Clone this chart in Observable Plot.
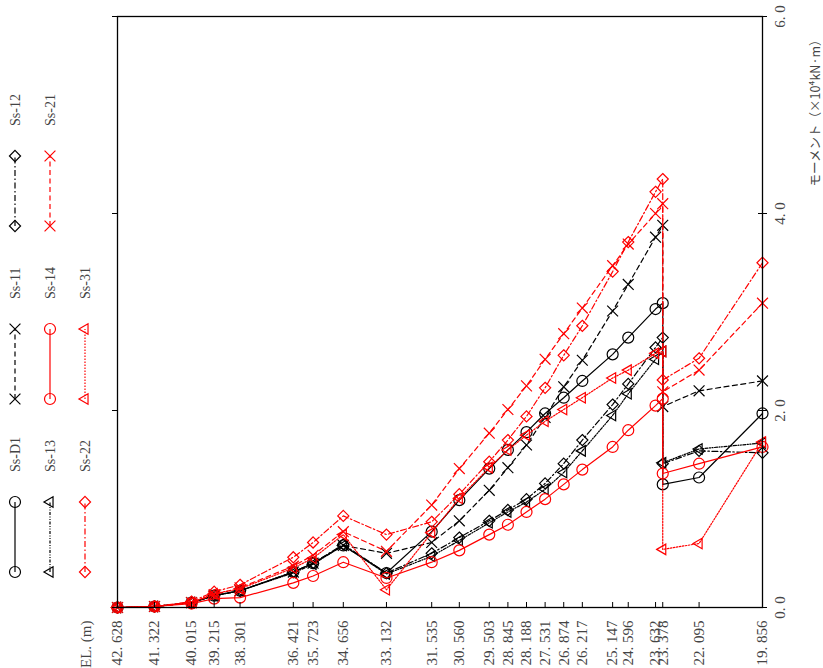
<!DOCTYPE html>
<html>
<head>
<meta charset="utf-8">
<script src="https://cdn.jsdelivr.net/npm/d3@7"></script>
<script src="https://cdn.jsdelivr.net/npm/@observablehq/plot@0.6"></script>
<style>
  html, body { margin: 0; padding: 0; background: #fff; }
  #wrap { position: relative; width: 823px; height: 668px; }
  #wrap svg { position: absolute; left: 0; top: 0; }
</style>
</head>
<body>
<div id="wrap"></div>
<script>
// Elevations (23.378 appears twice: value just above and just below the step)
const EL = [42.628, 41.322, 40.015, 39.215, 38.301, 36.421, 35.723, 34.656, 33.132, 31.535, 30.560, 29.503, 28.845, 28.188, 27.531, 26.874, 26.217, 25.147, 24.596, 23.632, 23.378, 23.378, 22.095, 19.856];
const elTicks = [42.628, 41.322, 40.015, 39.215, 38.301, 36.421, 35.723, 34.656, 33.132, 31.535, 30.560, 29.503, 28.845, 28.188, 27.531, 26.874, 26.217, 25.147, 24.596, 23.632, 23.378, 22.095, 19.856];
const momentTicks = [0, 2, 4, 6];

const seriesNames = ["Ss-D1", "Ss-11", "Ss-12", "Ss-13", "Ss-14", "Ss-21", "Ss-22", "Ss-31"];
const ssD1 = [0, 0.01, 0.05, 0.12, 0.17, 0.36, 0.45, 0.63, 0.35, 0.77, 1.09, 1.41, 1.60, 1.78, 1.97, 2.13, 2.30, 2.57, 2.74, 3.03, 3.09, 1.25, 1.32, 1.97];
const ss11 = [0, 0.01, 0.05, 0.12, 0.17, 0.36, 0.45, 0.63, 0.55, 0.66, 0.88, 1.19, 1.42, 1.65, 1.93, 2.24, 2.51, 3.01, 3.28, 3.76, 3.88, 2.04, 2.20, 2.30];
const ss12 = [0, 0.01, 0.05, 0.12, 0.17, 0.36, 0.45, 0.64, 0.35, 0.55, 0.71, 0.88, 0.99, 1.10, 1.26, 1.46, 1.70, 2.06, 2.27, 2.64, 2.74, 1.46, 1.59, 1.57];
const ss13 = [0, 0.01, 0.05, 0.12, 0.17, 0.35, 0.44, 0.63, 0.34, 0.52, 0.68, 0.86, 0.97, 1.07, 1.20, 1.37, 1.59, 1.95, 2.17, 2.52, 2.60, 1.47, 1.61, 1.67];
const ss14 = [0, 0.01, 0.04, 0.09, 0.10, 0.25, 0.32, 0.46, 0.30, 0.46, 0.58, 0.74, 0.84, 0.97, 1.10, 1.25, 1.40, 1.63, 1.80, 2.05, 2.12, 1.36, 1.46, 1.63];
const ss21 = [0, 0.01, 0.05, 0.13, 0.20, 0.42, 0.53, 0.77, 0.57, 1.04, 1.41, 1.77, 2.01, 2.25, 2.52, 2.78, 3.04, 3.47, 3.69, 4.00, 4.10, 2.19, 2.41, 3.09];
const ss22 = [0, 0.01, 0.06, 0.16, 0.23, 0.51, 0.66, 0.93, 0.74, 0.87, 1.15, 1.48, 1.70, 1.94, 2.23, 2.56, 2.86, 3.41, 3.71, 4.22, 4.35, 2.31, 2.53, 3.50];
const ss31 = [0, 0.01, 0.05, 0.14, 0.19, 0.40, 0.50, 0.74, 0.18, 0.76, 1.11, 1.42, 1.60, 1.75, 1.89, 2.01, 2.13, 2.33, 2.41, 2.58, 2.60, 0.59, 0.65, 1.68];
const seriesValues = [ssD1, ss11, ss12, ss13, ss14, ss21, ss22, ss31];

// styles
const seriesColors = ["#000", "#000", "#000", "#000", "#f00", "#f00", "#f00", "#f00"];
const seriesDash = [null, "5,3.5", "6,2.5,1.5,2.5", "3,1.5,1,1.5,1,1.5", null, "5,3.5", "6,2.5,1.5,2.5", "1.5,1.5"];
const seriesSymbol = ["circle", "times", "diamond2", "triangle2", "circle", "times", "diamond2", "triangle2"];
const seriesRotate = [0, 0, 0, -90, 0, 0, 0, -90];

const FONT = "Liberation Serif";
const TXT = "#444";
const fmtEL = v => v.toFixed(3).replace(".", ". ");
const fmtM = v => v.toFixed(1).replace(".", ". ");

const marks = [];
seriesNames.forEach((name, s) => {
  const rows = EL.map((e, i) => ({el: e, m: seriesValues[s][i], name}));
  marks.push(Plot.line(rows, {x: "el", y: "m", stroke: seriesColors[s], strokeWidth: 1.2, strokeDasharray: seriesDash[s]}));
  marks.push(Plot.dot(rows, {x: "el", y: "m", symbol: seriesSymbol[s], r: seriesSymbol[s] === "circle" ? 5.5 : 5, stroke: seriesColors[s], fill: "none", strokeWidth: 1.2, rotate: seriesRotate[s]}));
});

const innerH = 668 - 16 - 61;
const innerW = 823 - 117 - 61;

const chart = Plot.plot({
  width: 823,
  height: 668,
  marginLeft: 117,
  marginRight: 61,
  marginTop: 16,
  marginBottom: 61,
  style: {fontFamily: FONT, background: "transparent"},
  x: {domain: [42.628, 19.856], axis: null},
  y: {domain: [0, 6], axis: null},
  marks: [
    ...marks,
    Plot.frame({stroke: "#000", strokeWidth: 1.3}),
    // EL ticks (inward at bottom)
    Plot.tickX(elTicks, {x: d => d, stroke: "#000", strokeWidth: 1, insetTop: innerH - 5}),
    // moment ticks: left (outward) and right (crossing)
    Plot.tickY(momentTicks, {y: d => d, stroke: "#000", strokeWidth: 1, insetLeft: -5, insetRight: innerW}),
    Plot.tickY(momentTicks, {y: d => d, stroke: "#000", strokeWidth: 1, insetLeft: innerW - 4, insetRight: -5}),
    // EL tick labels
    Plot.text(elTicks, {x: d => d, text: fmtEL, frameAnchor: "bottom", rotate: -90, textAnchor: "end", lineAnchor: "middle", dy: 13, fontSize: 15, fontFamily: FONT, fill: TXT}),
    Plot.text(["EL. (m)"], {frameAnchor: "bottom-left", text: d => d, rotate: -90, textAnchor: "end", lineAnchor: "middle", dx: -31, dy: 13, fontSize: 15, fontFamily: FONT, fill: TXT}),
    // moment tick labels
    Plot.text(momentTicks, {y: d => d, text: fmtM, frameAnchor: "right", rotate: -90, textAnchor: "middle", lineAnchor: "middle", dx: 18, fontSize: 15, fontFamily: FONT, fill: TXT}),
    Plot.text(["モーメント（×10⁴kN·m）"], {frameAnchor: "top-right", text: d => d, rotate: -90, textAnchor: "end", lineAnchor: "middle", dx: 53, dy: 17, fontSize: 12.5, fontFamily: "Noto Sans CJK JP", fill: TXT})
  ]
});
document.getElementById("wrap").appendChild(chart);

// Legend (rotated, in the left margin)
const symbolMap = {circle: d3.symbolCircle, times: d3.symbolTimes, diamond2: d3.symbolDiamond2, triangle2: d3.symbolTriangle2};
const leg = d3.select("#wrap").append("svg").attr("width", 117).attr("height", 668).style("overflow", "visible");
seriesNames.forEach((name, i) => {
  const col = Math.floor(i / 3), row = i % 3;
  const x = 15 + 35 * col;
  const yb = 572 - 173 * row, yt = yb - 70;
  const g = leg.append("g");
  g.append("line").attr("x1", x).attr("x2", x).attr("y1", yb).attr("y2", yt)
    .attr("stroke", seriesColors[i]).attr("stroke-width", 1.2)
    .attr("stroke-dasharray", seriesDash[i]);
  const r = seriesSymbol[i] === "circle" ? 5.5 : 5;
  const path = d3.symbol(symbolMap[seriesSymbol[i]], r * r * Math.PI)();
  [yb, yt].forEach(y => {
    g.append("path").attr("d", path)
      .attr("transform", `translate(${x},${y}) rotate(${seriesRotate[i]})`)
      .attr("fill", "none").attr("stroke", seriesColors[i]).attr("stroke-width", 1.2);
  });
  g.append("text").text(name)
    .attr("transform", `translate(${x},${yt - 30}) rotate(-90)`)
    .attr("dy", "0.35em")
    .attr("font-family", FONT).attr("font-size", 14).attr("fill", TXT);
});
</script>
</body>
</html>
